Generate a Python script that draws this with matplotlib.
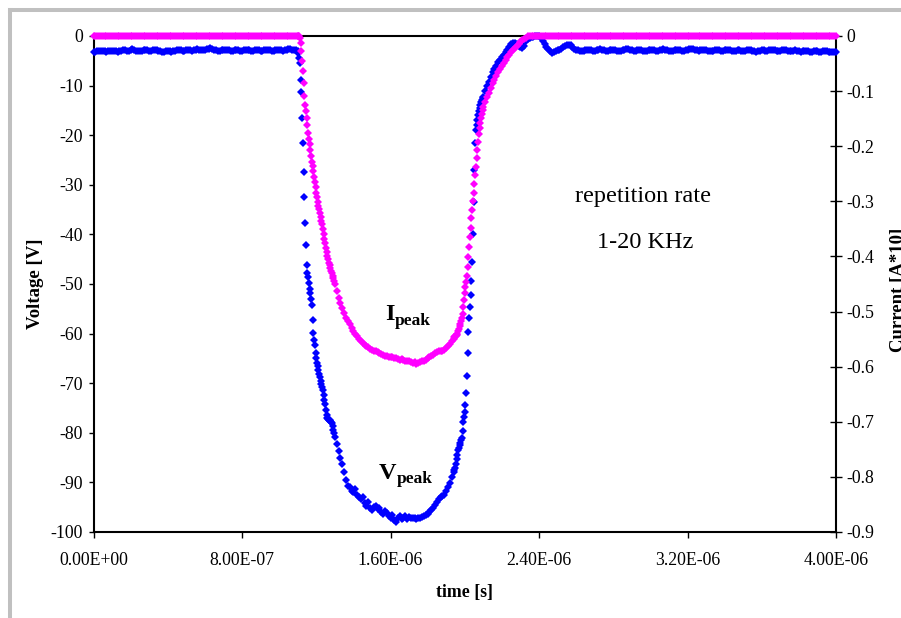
import matplotlib
matplotlib.use("Agg")
import matplotlib.pyplot as plt
from matplotlib.lines import Line2D
from matplotlib.ticker import FixedLocator, FuncFormatter
import numpy as np

plt.rcParams['font.family'] = ['Liberation Serif', 'DejaVu Serif']
plt.rcParams['axes.unicode_minus'] = False

# stretches of the scope trace: (start [us], sample step [us])
SEG_A = (0.00, 0.01)
SEG_B = (1.100, 0.004)
SEG_C = (1.30, 0.01)
SEG_D = (1.940, 0.004)
SEG_E = (2.10, 0.01)

# voltage [V]
V_A = [-3.2, -3.2, -3.1, -3.1, -3.0, -3.0, -3.1, -3.2, -3.1, -3.0,
       -3.0, -3.1, -3.1, -3.2, -3.1, -3.0, -2.9, -2.9, -3.0, -3.1,
       -2.8, -2.6, -2.8, -3.0, -3.1, -3.1, -3.0, -2.9, -2.8, -2.9,
       -3.0, -3.0, -2.9, -2.8, -2.9, -3.0, -3.1, -3.2, -3.2, -3.1,
       -3.0, -3.1, -3.2, -3.1, -3.0, -2.9, -2.8, -2.9, -3.0, -3.0,
       -2.9, -2.8, -2.9, -3.0, -2.9, -2.8, -2.7, -2.8, -2.9, -2.9,
       -2.8, -2.7, -2.6, -2.5, -2.6, -2.8, -2.9, -3.0, -3.0, -2.9,
       -2.9, -2.8, -2.8, -2.9, -3.0, -3.0, -2.9, -2.8, -2.9, -3.0,
       -3.0, -2.9, -2.8, -2.8, -2.9, -3.0, -3.0, -2.9, -2.8, -2.9,
       -3.0, -3.0, -2.9, -2.8, -2.8, -2.9, -3.0, -3.0, -2.9, -2.8,
       -2.8, -2.9, -3.0, -2.9, -2.8, -2.7, -2.7, -2.8, -2.9, -2.9]
V_B = [-3.0, -3.4, -4.4, -5.4, -8.9, -11.3, -16.5, -21.6, -27.4, -32.5,
       -37.7, -42.1, -46.2, -47.8, -48.6, -49.8, -51.0, -51.8, -53.0, -54.2,
       -57.3, -59.9, -61.2, -62.3, -63.9, -64.9, -65.9, -66.6, -67.4, -68.1,
       -68.8, -69.5, -70.1, -70.8, -71.4, -72.4, -73.3, -74.2, -75.5, -76.5,
       -77.0, -77.3, -77.4, -77.5, -77.7, -77.9, -78.0, -78.7, -79.4, -80.1]
V_C = [-80.8, -82.3, -83.7, -85.0, -86.2, -88.0, -89.5, -90.8, -91.0, -91.8,
       -92.0, -91.4, -92.6, -92.9, -93.3, -93.0, -94.2, -94.8, -94.0, -95.2,
       -95.6, -95.0, -94.8, -95.3, -95.2, -96.0, -96.4, -95.8, -96.2, -96.8,
       -97.2, -96.6, -97.6, -98.0, -97.2, -96.8, -97.4, -97.2, -96.8, -97.3,
       -97.0, -97.1, -97.2, -97.2, -97.3, -97.2, -97.2, -97.0, -96.8, -96.6,
       -96.3, -95.9, -95.5, -95.2, -94.6, -93.9, -93.3, -93.0, -92.7, -92.5,
       -91.8, -91.0, -90.2, -89.0]
V_D = [-88.0, -87.5, -87.0, -86.2, -85.3, -84.4, -83.5, -83.0, -82.5, -82.0,
       -81.5, -81.0, -79.6, -77.8, -76.8, -75.8, -74.3, -72.0, -68.6, -64.0,
       -59.6, -56.8, -54.6, -52.2, -49.4, -45.6, -40.0, -33.5, -27.0, -21.5,
       -19.0, -18.0, -17.0, -16.0, -15.2, -14.6, -14.0, -13.4, -12.9, -12.4]
V_E = [-12.2, -11.0, -10.0, -9.2, -8.3, -7.3, -6.6, -6.0, -5.3, -4.8,
       -4.3, -3.8, -3.3, -2.8, -2.2, -1.7, -1.4, -1.5, -1.7, -2.0,
       -2.3, -2.4, -2.0, -1.0, -0.6, -0.4, -0.3, -0.2, -0.1, 0.0,
       0.0, -0.4, -1.0, -1.6, -2.2, -2.7, -3.1, -3.4, -3.3, -3.1,
       -2.9, -2.8, -2.6, -2.3, -2.0, -1.8, -1.8, -1.9, -2.3, -2.6,
       -2.8,
       -2.9, -3.0, -3.1, -3.0, -2.9, -2.8, -2.8, -2.9, -3.0, -3.0,
       -2.9, -2.8, -2.7, -2.8, -2.9, -3.0, -3.0, -2.9, -2.8, -2.8,
       -2.9, -3.0, -3.1, -3.0, -2.9, -2.8, -2.7, -2.7, -2.8, -2.9,
       -3.0, -3.0, -2.9, -2.8, -2.9, -3.0, -3.1, -3.0, -2.9, -2.8,
       -2.8, -2.9, -3.0, -3.0, -2.9, -2.8, -2.7, -2.8, -2.9, -3.0,
       -3.1, -3.0, -2.9, -2.8, -2.8, -2.9, -3.0, -3.0, -2.9, -2.8,
       -2.7, -2.6, -2.7, -2.8, -2.9, -3.0, -2.9, -2.8, -2.8, -2.9,
       -3.0, -3.1, -3.1, -3.0, -2.9, -2.8, -2.9, -3.0, -3.0, -2.9,
       -2.8, -2.8, -2.9, -3.0, -3.1, -3.0, -2.9, -2.9, -3.0, -3.1,
       -3.0, -2.9, -2.8, -2.9, -3.0, -3.1, -3.2, -3.1, -3.0, -2.9,
       -2.9, -3.0, -3.0, -2.9, -2.8, -2.8, -2.9, -3.0, -3.1, -3.0,
       -2.9, -2.8, -2.9, -3.0, -3.1, -3.1, -3.0, -2.9, -3.0, -3.1,
       -3.2, -3.1, -3.0, -3.0, -3.1, -3.2, -3.2, -3.1, -3.0, -3.1,
       -3.2, -3.2, -3.1, -3.0, -3.1, -3.2, -3.3, -3.2, -3.2, -3.3]

I_A = [0, 0, 0, 0, 0, 0, 0, 0, 0, 0,
       0, 0, 0, 0, 0, 0, 0, 0, 0, 0,
       0, 0, 0, 0, 0, 0, 0, 0, 0, 0,
       0, 0, 0, 0, 0, 0, 0, 0, 0, 0,
       0, 0, 0, 0, 0, 0, 0, 0, 0, 0,
       0, 0, 0, 0, 0, 0, 0, 0, 0, 0,
       0, 0, 0, 0, 0, 0, 0, 0, 0, 0,
       0, 0, 0, 0, 0, 0, 0, 0, 0, 0,
       0, 0, 0, 0, 0, 0, 0, 0, 0, 0,
       0, 0, 0, 0, 0, 0, 0, 0, 0, 0,
       0, 0, 0, 0, 0, 0, 0, 0, 0, 0]
I_B = [0, 0, 0, -0.003, -0.013, -0.027, -0.045, -0.063, -0.086, -0.108,
       -0.125, -0.136, -0.148, -0.162, -0.176, -0.186, -0.196, -0.206, -0.217, -0.229,
       -0.236, -0.245, -0.255, -0.265, -0.274, -0.284, -0.293, -0.302, -0.308, -0.314,
       -0.321, -0.328, -0.335, -0.341, -0.350, -0.359, -0.368, -0.376, -0.384, -0.392,
       -0.399, -0.405, -0.411, -0.416, -0.421, -0.426, -0.430, -0.436, -0.440, -0.445]
I_C = [-0.450, -0.463, -0.475, -0.485, -0.494, -0.503, -0.511, -0.518, -0.523, -0.529,
       -0.536, -0.540, -0.545, -0.549, -0.554, -0.557, -0.560, -0.563, -0.565, -0.568,
       -0.570, -0.572, -0.572, -0.574, -0.576, -0.577, -0.579, -0.580, -0.581, -0.582,
       -0.583, -0.583, -0.585, -0.584, -0.586, -0.587, -0.586, -0.588, -0.590, -0.589,
       -0.590, -0.592, -0.594, -0.591, -0.595, -0.593, -0.592, -0.590, -0.589, -0.587,
       -0.585, -0.583, -0.581, -0.579, -0.576, -0.574, -0.572, -0.572, -0.571, -0.569,
       -0.566, -0.563, -0.558, -0.554]
I_D = [-0.549, -0.547, -0.545, -0.545, -0.543, -0.540, -0.536, -0.531, -0.527, -0.522,
       -0.517, -0.512, -0.504, -0.491, -0.479, -0.466, -0.455, -0.446, -0.435, -0.419,
       -0.401, -0.383, -0.365, -0.348, -0.331, -0.315, -0.299, -0.284, -0.268, -0.252,
       -0.237, -0.221, -0.206, -0.192, -0.178, -0.167, -0.158, -0.149, -0.142, -0.135]
I_E = [-0.129, -0.119, -0.111, -0.103, -0.095, -0.086, -0.079, -0.072, -0.066, -0.059,
       -0.054, -0.049, -0.043, -0.039, -0.034, -0.029, -0.025, -0.022, -0.018, -0.014,
       -0.011, -0.008, -0.005, -0.003,
       0, 0, 0, 0, 0, 0, 0, 0, 0, 0,
       0, 0, 0, 0, 0, 0, 0, 0, 0, 0,
       0, 0, 0, 0, 0, 0, 0, 0, 0, 0,
       0, 0, 0, 0, 0, 0, 0, 0, 0, 0,
       0, 0, 0, 0, 0, 0, 0, 0, 0, 0,
       0, 0, 0, 0, 0, 0, 0, 0, 0, 0,
       0, 0, 0, 0, 0, 0, 0, 0, 0, 0,
       0, 0, 0, 0, 0, 0, 0, 0, 0, 0,
       0, 0, 0, 0, 0, 0, 0, 0, 0, 0,
       0, 0, 0, 0, 0, 0, 0, 0, 0, 0,
       0, 0, 0, 0, 0, 0, 0, 0, 0, 0,
       0, 0, 0, 0, 0, 0, 0, 0, 0, 0,
       0, 0, 0, 0, 0, 0, 0, 0, 0, 0,
       0, 0, 0, 0, 0, 0, 0, 0, 0, 0,
       0, 0, 0, 0, 0, 0, 0, 0, 0, 0,
       0, 0, 0, 0, 0, 0, 0, 0, 0, 0,
       0, 0, 0, 0, 0, 0, 0]

X_TICKS = [0, 8e-7, 1.6e-6, 2.4e-6, 3.2e-6, 4e-6]
V_TICKS = [0, -10, -20, -30, -40, -50, -60, -70, -80, -90, -100]
I_TICKS = [0, -0.1, -0.2, -0.3, -0.4, -0.5, -0.6, -0.7, -0.8, -0.9]

SEGS = [SEG_A, SEG_B, SEG_C, SEG_D, SEG_E]


def trace(parts):
    """join the stretches into one time axis [s] and one value array"""
    t = np.concatenate([s[0] + s[1] * np.arange(len(p)) for s, p in zip(SEGS, parts)])
    return t * 1e-6, np.concatenate([np.asarray(p, float) for p in parts])


def peak_label(ax, x, y, letter):
    """big bold letter with a bold 'peak' subscript just after it"""
    big = ax.text(x, y, letter, ha='left', va='baseline', fontsize=17.5,
                  fontweight='bold')
    ax.annotate('peak', xy=(1, 0), xycoords=big, xytext=(0.5, 0.5),
                textcoords='offset points', ha='left', va='baseline',
                fontsize=12.5, fontweight='bold')


t_v, volt = trace([V_A, V_B, V_C, V_D, V_E])
t_i, curr = trace([I_A, I_B, I_C, I_D, I_E])

W, H = 901, 618
fig = plt.figure(figsize=(W / 100, H / 100), dpi=100)
ax = fig.add_axes([93.5 / W, (H - 532) / H, (836 - 93.5) / W, (532 - 36) / H])
ax2 = ax.twinx()

ax.plot(t_v, volt, ls='none', marker='D', ms=4.3, mew=0, color='#0000ff',
        clip_on=False, zorder=3)
ax2.plot(t_i, curr, ls='none', marker='D', ms=4.3, mew=0, color='#ff00ff',
         clip_on=False, zorder=3)

ax.set_xlim(0, 4e-6)
ax.set_ylim(-100, 0)
ax2.set_ylim(-0.9, 0)

tick_font = 12.8
ax.xaxis.set_major_locator(FixedLocator(X_TICKS))
ax.xaxis.set_major_formatter(FuncFormatter(lambda v, p: f"{v:.2E}"))
ax.yaxis.set_major_locator(FixedLocator(V_TICKS))
ax.yaxis.set_major_formatter(FuncFormatter(lambda v, p: f"{v:g}"))
ax2.yaxis.set_major_locator(FixedLocator(I_TICKS))
ax2.yaxis.set_major_formatter(FuncFormatter(lambda v, p: f"{v:g}"))

ax.tick_params(axis='y', direction='out', length=3.6, width=1.0, pad=4,
               labelsize=tick_font)
ax.tick_params(axis='x', direction='out', length=4.3, width=1.0, pad=10,
               labelsize=tick_font)
ax2.tick_params(axis='y', direction='inout', length=8.6, width=1.0, pad=3,
                labelsize=tick_font)

for s in ax.spines.values():
    s.set_linewidth(1.5)
    s.set_color('black')
for s in ax2.spines.values():
    s.set_visible(False)

ax.set_xlabel('time [s]', fontsize=12.8, fontweight='bold')
ax.xaxis.set_label_coords(0.5, -(584 - 532) / 496)
ax.set_ylabel('Voltage [V]', fontsize=13.5, fontweight='bold')
ax.yaxis.set_label_coords(-(93.5 - 44) / 742.5, 0.5)
# right-hand label runs off the edge of the picture, as in the original
fig.text(890 / W, 1 - 290 / H, 'Current [A*10]', rotation=90, ha='left',
         va='center', fontsize=13.5, fontweight='bold')

# annotations inside the plot
ax.text(2.961e-6, -33.5, 'repetition rate', ha='center', va='baseline',
        fontsize=17.5)
ax.text(2.971e-6, -42.7, '1-20 KHz', ha='center', va='baseline', fontsize=17.5)
peak_label(ax, 1.57e-6, -57.3, 'I')
peak_label(ax, 1.535e-6, -89.3, 'V')

# grey frame round the chart object (cut off at right and bottom)
fig.add_artist(Line2D([10 / W, 10 / W], [0, 1 - 10 / H], color='#c0c0c0',
                      lw=2.9, solid_capstyle='projecting'))
fig.add_artist(Line2D([10 / W, 1], [1 - 10 / H, 1 - 10 / H], color='#c0c0c0',
                      lw=2.9, solid_capstyle='projecting'))

fig.savefig('out.png', dpi=100)
